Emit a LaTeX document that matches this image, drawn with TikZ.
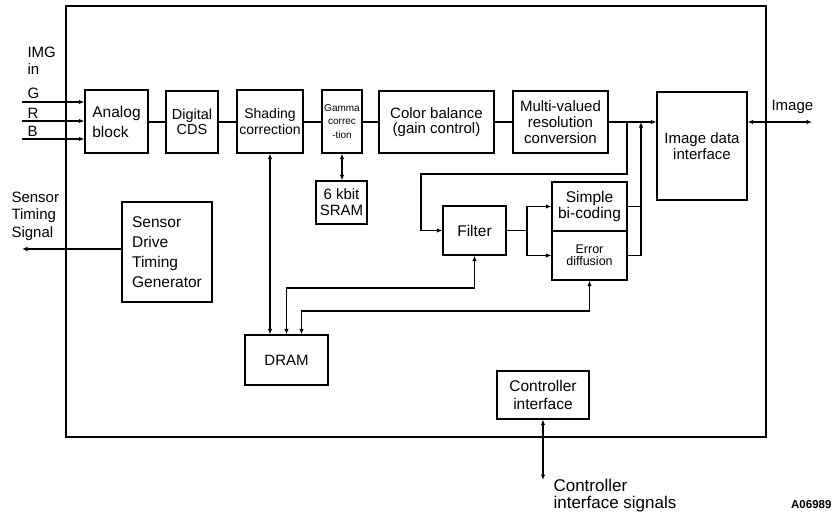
\documentclass[tikz,border=0pt]{standalone}
\usepackage{fontspec}
\setmainfont{Liberation Sans}
\usetikzlibrary{arrows.meta}
\begin{document}
\begin{tikzpicture}[x=1pt,y=-1pt,
  every path/.style={line width=1.1pt},
  >={Latex[length=5.5pt,width=4.5pt]},
  blk/.style={draw,line width=1.2pt,inner sep=0pt,align=center,font=\fontsize{15}{16}\selectfont},
  lbl/.style={inner sep=0pt,align=left,font=\fontsize{15}{17}\selectfont}]
\useasboundingbox (0,0) rectangle (834,522);
% frame
\draw[line width=1.2pt] (66,6) rectangle (766,437);
% blocks
\node[blk,minimum width=63pt,minimum height=63pt,align=left,font=\fontsize{15.5}{20}\selectfont] (analog) at (116.5,121.5) {Analog\\block};
\node[blk,minimum width=52pt,minimum height=62pt,font=\fontsize{14.5}{15}\selectfont] (cds) at (192,122) {Digital\\CDS};
\node[blk,minimum width=66pt,minimum height=63pt,font=\fontsize{14}{16}\selectfont] (shading) at (270,121.5) {Shading\\correction};
\node[blk,minimum width=40pt,minimum height=63pt,font=\fontsize{10}{13.5}\selectfont] (gamma) at (342,121.5) {Gamma\\correc\\-tion};
\node[blk,minimum width=115pt,minimum height=62pt,font=\fontsize{15}{15.5}\selectfont] (color) at (436.5,122) {Color balance\\(gain control)};
\node[blk,minimum width=95pt,minimum height=62pt,font=\fontsize{15}{16}\selectfont] (multi) at (560.5,122) {Multi-valued\\resolution\\conversion};
\node[blk,minimum width=90pt,minimum height=108pt,font=\fontsize{15}{15.5}\selectfont] (idi) at (702,146) {Image data\\interface};
\node[blk,minimum width=51pt,minimum height=43pt] (sram) at (341.5,202.5) {6 kbit\\SRAM};
\node[blk,minimum width=63pt,minimum height=49pt,font=\fontsize{15.5}{16}\selectfont] (filter) at (474.5,230.5) {Filter};
\node[blk,minimum width=75pt,minimum height=49pt,font=\fontsize{15.5}{16}\selectfont] (simple) at (589.5,206.5) {Simple\\bi-coding};
\node[blk,minimum width=75pt,minimum height=49pt,font=\fontsize{12.5}{11.5}\selectfont] (error) at (589.5,255.5) {Error\\diffusion};
\node[blk,minimum width=90pt,minimum height=100pt,align=left,font=\fontsize{15.5}{20}\selectfont] (sdtg) at (167,252) {Sensor\\Drive\\Timing\\Generator};
\node[blk,minimum width=83pt,minimum height=50pt] (dram) at (286.5,360) {DRAM};
\node[blk,minimum width=92pt,minimum height=48pt,font=\fontsize{15.5}{18}\selectfont] (ctrl) at (543,395) {Controller\\interface};
% labels
\node[lbl,anchor=west] (imgin) at (27,61) {IMG\\in};
\node[lbl,anchor=west] (lg) at (27,93) {G};
\node[lbl,anchor=west] (lr) at (27,113) {R};
\node[lbl,anchor=west] (lb) at (27,131) {B};
\node[lbl,anchor=west,font=\fontsize{15}{17.5}\selectfont] (sts) at (11,216) {Sensor\\Timing\\Signal};
\node[lbl,anchor=west] (limage) at (771,107) {Image};
\node[lbl,anchor=west,font=\fontsize{17}{17}\selectfont] (cis) at (553,496) {Controller\\interface signals};
\node[lbl,anchor=east,font=\bfseries\fontsize{11.5}{12}\selectfont] (code) at (832,505) {A06989};
% inputs
\coordinate (gin) at (22,102);
\coordinate (rin) at (22,121);
\coordinate (bin) at (22,139);
\draw[->] (gin) -- (gin -| analog.west);
\draw[->] (rin) -- (rin -| analog.west);
\draw[->] (bin) -- (bin -| analog.west);
% main chain
\draw (analog.east |- cds.west) -- (cds.west);
\draw (cds.east) -- (cds.east -| shading.west);
\draw (shading.east |- cds.east) -- (cds.east -| gamma.west);
\draw (gamma.east |- color.west) -- (color.west);
\draw (color.east) -- (multi.west);
\draw[->] (multi.east) -- (multi.east -| idi.west);
% feedback to filter
\coordinate (fb) at (627,122);
\draw[->] (fb) -- (627,174) -| (421,230.5) -- (filter.west);
% filter to coders
\coordinate (sp) at (527,230.5);
\draw (filter.east) -- (sp);
\draw[->] (sp) |- (simple.west);
\draw[->] (sp) |- (error.west);
% coder outputs
\coordinate (co) at (641,206.5);
\draw (simple.east) -- (co);
\draw[->] (error.east) -- (641,255.5) -- (641,122);
% image out
\coordinate (imgout) at (812,122);
\draw[<->] (imgout -| idi.east) -- (imgout);
% gamma - sram
\draw[<->] (gamma.south) -- (gamma.south |- sram.north);
% dram links
\draw[<->] (shading.south) -- (shading.south |- dram.north);
\draw[<->] (filter.south) -- (474.5,288) -| (dram.north);
\draw[<->] (error.south) -- (589.5,311) -| ([xshift=15pt]dram.north);
% sensor timing
\coordinate (stsout) at (22,249);
\draw[->] (stsout -| sdtg.west) -- (stsout);
% controller
\coordinate (ctrlout) at (543,480);
\draw[<->] (ctrl.south) -- (ctrlout);
\end{tikzpicture}
\end{document}
